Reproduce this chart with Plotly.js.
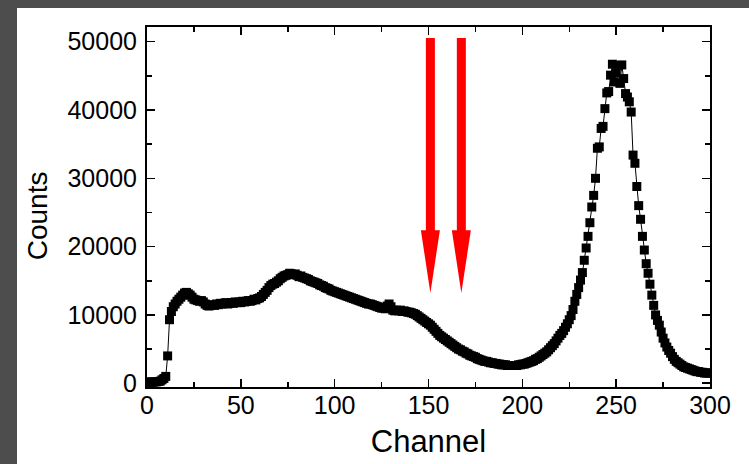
<!DOCTYPE html>
<html>
<head>
<meta charset="utf-8">
<script src="https://cdn.plot.ly/plotly-3.0.1.min.js"></script>
<style>html,body{margin:0;padding:0;background:#ffffff;overflow:hidden;}#chart{width:749px;height:464px;}</style>
</head>
<body>
<div id="chart"></div>
<script>
// Counts per channel, channels 0..300
const counts = [
  200,150,150,150,200,200,250,300,500,700,
  1000,4000,9300,10500,11200,11600,12000,12300,12600,12900,
  13200,13300,13100,12900,12600,12300,12200,12100,12000,12100,
  11900,11600,11400,11300,11400,11500,11400,11600,11500,11700,
  11600,11700,11800,11600,11700,11800,11700,11900,11800,11900,
  11800,12000,11900,12000,12100,12000,12100,12300,12200,12400,
  12500,12700,13000,13300,13600,14000,14300,14500,14600,14800,
  15000,15300,15500,15700,15800,15900,16100,16000,15900,16000,
  15800,15600,15700,15500,15400,15300,15200,15000,14900,14800,
  14700,14600,14400,14300,14200,14000,13900,13800,13600,13500,
  13400,13300,13200,13100,13000,12900,12800,12700,12600,12500,
  12400,12300,12200,12100,12000,11900,11800,11700,11600,11600,
  11500,11400,11300,11200,11100,11000,11000,10900,11300,11600,
  11200,10700,10600,10700,10600,10700,10500,10600,10500,10400,
  10400,10300,10200,10100,9900,9700,9500,9300,9100,8900,
  8700,8500,8200,7900,7600,7300,7000,6800,6600,6400,
  6200,6000,5800,5600,5400,5200,5000,4900,4700,4600,
  4400,4300,4100,4000,3900,3800,3600,3500,3400,3300,
  3200,3200,3100,3000,3000,2900,2900,2800,2800,2700,
  2700,2700,2600,2600,2600,2600,2600,2600,2700,2700,
  2800,2800,2900,3000,3100,3200,3300,3500,3600,3800,
  4000,4200,4400,4600,4900,5200,5500,5800,6200,6600,
  7000,7300,7700,8200,8700,9300,9900,10800,12000,13000,
  14000,15100,16200,18000,19800,21500,23500,25800,27500,30000,
  34400,34600,37300,37600,40200,42500,42700,45100,46700,44100,
  45400,46500,43900,46600,44600,42400,41900,41200,39700,33400,
  32200,28800,26000,24000,21500,19500,17500,16100,14500,12900,
  11400,10000,9200,8500,7500,6600,5900,5300,4800,4400,
  3900,3500,3200,3000,2800,2600,2400,2300,2200,2100,
  2000,1900,1800,1700,1700,1600,1600,1500,1500,1500,
  1500
];
const channels = counts.map((_, i) => i);

// Marked channels (red arrows) and the count levels they span
const arrowChannels = [151, 167.5];
const arrowTopCount = 50540;
const arrowHeadBaseCount = 22400;
const arrowTipCount = 13200;

const xTickVals = [0, 50, 100, 150, 200, 250, 300];
const yTickVals = [0, 10000, 20000, 30000, 40000, 50000];

const trace = {
  x: channels, y: counts, type: 'scatter', mode: 'lines+markers',
  line: {color: '#000', width: 1},
  marker: {symbol: 'square', size: 9, color: '#000'},
  hoverinfo: 'x+y'
};

const GRAY = '#4d4d4d';
const shapes = [
  // dark frame strips (left and top) of the screenshot
  {type: 'rect', xref: 'paper', yref: 'paper', x0: -0.3, x1: -0.2309, y0: -0.3, y1: 1.2,
   fillcolor: GRAY, line: {width: 0}, layer: 'below'},
  {type: 'rect', xref: 'paper', yref: 'paper', x0: -0.3, x1: 1.2, y0: 1.0528, y1: 1.2,
   fillcolor: GRAY, line: {width: 0}, layer: 'below'}
];
arrowChannels.forEach(ch => {
  shapes.push({
    type: 'path', xref: 'x', yref: 'y', xsizemode: 'pixel', xanchor: ch,
    path: `M -4.5,${arrowTopCount} L 4.5,${arrowTopCount} L 4.5,${arrowHeadBaseCount} L 9.5,${arrowHeadBaseCount} L 0,${arrowTipCount} L -9.5,${arrowHeadBaseCount} L -4.5,${arrowHeadBaseCount} Z`,
    fillcolor: '#ff0000', line: {width: 0}, layer: 'above'
  });
});

const FONT = 'Arial, "Liberation Sans", sans-serif';
const axisCommon = {
  showgrid: false, zeroline: false, showline: true, linecolor: '#000', linewidth: 2,
  mirror: 'ticks', ticks: 'inside', ticklen: 8, tickwidth: 1.5, tickcolor: '#000',
  tickfont: {family: FONT, size: 25, color: '#000'}
};

const layout = {
  width: 749, height: 464,
  margin: {l: 147, r: 39, t: 27, b: 77},
  paper_bgcolor: '#ffffff', plot_bgcolor: '#ffffff',
  showlegend: false,
  xaxis: Object.assign({}, axisCommon, {
    range: [0, 300], tickvals: xTickVals, ticktext: xTickVals.map(String),
    ticklabelstandoff: -5,
    minor: {dtick: 25, tick0: 0, ticks: 'inside', ticklen: 5, tickwidth: 1.5, tickcolor: '#000'},
    title: {text: 'Channel', font: {family: FONT, size: 31, color: '#000'}, standoff: 12}
  }),
  yaxis: Object.assign({}, axisCommon, {
    range: [-550, 52150], tickvals: yTickVals, ticktext: yTickVals.map(String),
    ticklabelstandoff: 3,
    minor: {dtick: 5000, tick0: 0, ticks: 'inside', ticklen: 5, tickwidth: 1.5, tickcolor: '#000'}
  }),
  annotations: [
    {text: 'Counts', xref: 'paper', yref: 'paper', x: -0.1954, y: 0.477, textangle: -90,
     xanchor: 'center', yanchor: 'middle', showarrow: false,
     font: {family: FONT, size: 28, color: '#000'}}
  ],
  shapes: shapes
};

Plotly.newPlot('chart', [trace], layout, {displayModeBar: false, staticPlot: true});
</script>
</body>
</html>
